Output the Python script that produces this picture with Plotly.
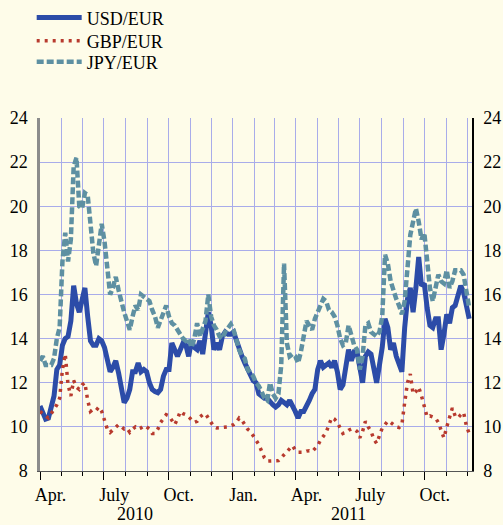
import pandas as pd
import plotly.graph_objects as go

# sampling dates (every 4 days from 1 Apr 2010)
dates = pd.date_range("2010-04-01", periods=154, freq="4D")

usd_eur = [
    10.95, 10.7, 10.35, 10.4, 10.9, 11.4, 12.6, 12.8, 13.7, 14.0,
    14.1, 14.8, 16.4, 15.6, 15.2, 15.7, 16.3, 15.0, 13.9, 13.7,
    13.7, 14.0, 13.9, 13.6, 12.9, 12.5, 12.7, 13.0, 12.45, 11.6,
    11.1, 11.3, 11.7, 12.5, 12.5, 12.9, 12.5, 12.6, 12.5, 12.0,
    11.7, 11.6, 11.55, 11.7, 12.3, 12.6, 12.6, 13.8, 13.5, 13.2,
    13.5, 13.8, 13.7, 13.2, 13.9, 13.6, 13.5, 13.9, 13.3, 14.2,
    15.2, 14.6, 13.5, 13.8, 13.5, 14.1, 14.3, 14.2, 14.2, 14.3,
    13.9, 13.6, 13.2, 12.9, 12.6, 12.3, 12.1, 12.0, 11.5, 11.4,
    11.3, 11.3, 11.1, 11.0, 10.9, 11.0, 11.2, 11.1, 11.0, 11.2,
    11.0, 10.7, 10.4, 10.7, 10.7, 10.9, 11.2, 11.5, 11.7, 12.6,
    13.0, 12.7, 12.8, 12.9, 12.7, 13.0, 12.5, 11.7, 11.9, 12.9,
    13.5, 13.0, 13.4, 13.4, 12.6, 12.0, 13.2, 13.4, 13.3, 12.5,
    12.0, 12.8, 13.6, 14.9, 14.5, 13.5, 13.8, 13.2, 12.8, 12.5,
    14.5, 15.8, 16.3, 15.2, 16.3, 17.7, 16.4, 16.5, 15.4, 14.6,
    14.5, 14.9, 14.9, 13.5, 14.2, 15.1, 14.7, 15.4, 15.5, 15.9,
    16.4, 16.1, 15.6, 14.9,
]

gbp_eur = [
    10.7, 10.6, 10.45, 10.4, 10.6, 10.8, 11.0, 11.3, 12.6, 13.3,
    11.9, 11.4, 12.1, 11.8, 11.7, 11.9, 12.0, 11.2, 10.7, 10.8,
    10.75, 10.9, 10.7, 10.3, 9.9, 9.75, 9.85, 10.0, 10.1, 10.0,
    9.9, 9.95, 9.75, 9.9, 10.0, 9.9, 9.95, 10.05, 10.0, 9.9,
    9.7, 9.7, 9.9, 10.2, 10.4, 10.55, 10.5, 10.3, 10.1, 10.35,
    10.7, 10.6, 10.55, 10.45, 10.3, 10.2, 10.25, 10.45, 10.55, 10.6,
    10.4, 10.2, 10.0, 9.95, 9.97, 9.97, 9.97, 10.0, 10.05, 10.1,
    10.2, 10.4, 10.3, 10.1, 9.9, 9.8, 9.6, 9.4, 9.2, 8.9,
    8.6, 8.45, 8.45, 8.45, 8.47, 8.47, 8.6, 8.75, 8.9, 9.05,
    9.15, 8.95, 8.85, 8.85, 8.85, 8.9, 8.92, 8.88, 9.0, 9.15,
    9.4, 9.6, 9.75, 10.1, 10.42, 10.35, 10.2, 9.95, 9.7, 9.75,
    9.85, 9.9, 9.9, 9.8, 9.5, 9.8, 10.25, 10.0, 9.8, 9.45,
    9.25, 9.6, 9.95, 10.1, 10.27, 10.2, 10.1, 10.0, 9.97, 10.1,
    11.1, 12.0, 12.4, 11.5, 11.6, 11.8, 11.4, 10.9, 10.45, 10.5,
    10.45, 10.4, 10.2, 9.9, 9.5, 10.0, 10.4, 10.85, 10.5, 10.4,
    10.55, 10.65, 10.05, 9.7,
]

jpy_eur = [
    13.0, 13.2, 12.8, 12.8, 12.8, 13.1, 14.0, 14.5, 17.5, 18.8,
    17.5, 18.5, 21.8, 22.2, 20.0, 19.9, 20.6, 20.5, 18.9, 17.9,
    17.3, 18.2, 19.2, 18.4, 17.0, 16.0, 16.3, 16.8, 16.2, 15.6,
    15.2, 14.8, 14.4, 15.0, 15.5, 15.3, 16.0, 15.9, 15.8, 15.7,
    15.3, 15.0, 14.5, 14.8, 15.2, 15.5, 15.0, 14.7, 14.6, 14.35,
    14.2, 14.0, 13.9, 14.0, 13.6, 14.0, 14.7, 14.1, 14.4, 14.8,
    16.0, 15.0, 14.6, 14.4, 14.1, 14.0, 14.3, 14.5, 14.65, 14.4,
    13.9, 13.5, 13.2, 13.1, 12.6, 12.45, 12.3, 12.0, 11.85, 11.6,
    11.3, 11.2, 12.0, 11.5, 11.3, 11.5, 12.8, 17.4, 13.8, 13.2,
    13.3, 13.2, 12.9, 13.4, 14.2, 14.8, 14.6, 14.4, 14.9, 15.2,
    15.6, 15.8, 15.7, 15.3, 15.2, 15.0, 14.6, 14.0, 13.7, 13.8,
    14.6, 14.1, 13.7, 13.5, 12.6, 13.2, 14.6, 14.7, 14.3, 14.2,
    14.1, 14.3, 15.0, 17.8, 17.4, 16.6, 16.1, 15.8, 15.5, 15.1,
    15.7, 17.5, 18.7, 19.3, 19.9, 19.3, 18.5, 18.8, 17.3, 16.3,
    15.7, 16.2, 16.9, 16.6, 16.5, 17.1, 16.3, 16.6, 17.1, 17.1,
    17.1, 16.9, 16.1, 15.4,
]

quarter_starts = ["2010-04-01", "2010-07-01", "2010-10-01", "2011-01-01",
                  "2011-04-01", "2011-07-01", "2011-10-01"]
label_dates = ["2010-04-16", "2010-07-16", "2010-10-16", "2011-01-16",
               "2011-04-16", "2011-07-16", "2011-10-16"]
label_text = ["Apr.", "July", "Oct.", "Jan.", "Apr.", "July", "Oct."]
years = ["2010", "2011"]
year_dates = ["2010-08-15", "2011-06-15"]

x_range = ["2010-04-01", "2011-12-08"]
bg = "#fefce9"
grid = "#a9acea"
font = "'Liberation Serif', 'Times New Roman', Times, serif"

fig = go.Figure()

fig.add_trace(go.Scatter(
    x=dates, y=usd_eur, name="USD/EUR", mode="lines", legend="legend",
    line=dict(color="#2c4ca8", width=5),
))
fig.add_trace(go.Scatter(
    x=dates, y=gbp_eur, name="GBP/EUR", mode="lines", legend="legend2",
    line=dict(color="#b83a2e", width=3.5, dash="3px,5px"),
))
# JPY on the overlay axes (drawn on top, also gives the right-hand labels)
fig.add_trace(go.Scatter(
    x=dates, y=jpy_eur, name="JPY/EUR", mode="lines", legend="legend3",
    line=dict(color="#5e90a2", width=4.5, dash="7px,3px"),
    xaxis="x2", yaxis="y2",
))

for yr, d in zip(years, year_dates):
    fig.add_annotation(x=d, y=-0.122, xref="x", yref="paper", text=yr,
                       showarrow=False, yanchor="middle",
                       font=dict(family=font, size=18, color="black"))

# legends placed in container coordinates so they do not push the margins
leg = dict(xref="container", yref="container", x=0.063, xanchor="left",
           yanchor="middle", itemwidth=45, bgcolor="rgba(0,0,0,0)",
           font=dict(family=font, size=18))

fig.update_layout(
    width=503, height=525,
    margin=dict(l=40, r=31, t=118, b=54, autoexpand=False),
    paper_bgcolor=bg, plot_bgcolor=bg,
    font=dict(family=font, size=18, color="black"),
    showlegend=True,
    legend=dict(leg, y=0.966),
    legend2=dict(leg, y=0.922),
    legend3=dict(leg, y=0.882),
    xaxis=dict(
        range=x_range, tickmode="array", tickvals=quarter_starts,
        showticklabels=False, ticks="outside", ticklen=8, tickcolor="black",
        showgrid=True, gridcolor=grid, gridwidth=1,
        showline=True, linecolor="#555555", linewidth=1,
        minor=dict(tickmode="linear", tick0="2010-04-01", dtick="M1",
                   ticks="outside", ticklen=4, tickcolor="black",
                   showgrid=True, gridcolor=grid, gridwidth=1),
        zeroline=False,
    ),
    xaxis2=dict(
        overlaying="x", matches="x", anchor="y", side="bottom",
        range=x_range, tickmode="array", tickvals=label_dates,
        ticktext=label_text, ticks="", showgrid=False, showline=False,
        ticklabelstandoff=11, tickfont=dict(family=font, size=18),
    ),
    yaxis=dict(
        range=[8, 24], dtick=2, ticks="", showgrid=True, gridcolor=grid,
        showline=True, linecolor="#8c8c8c", linewidth=2.5, zeroline=False,
        ticklabelstandoff=6, tickfont=dict(family=font, size=18),
    ),
    yaxis2=dict(
        overlaying="y", matches="y", side="right", anchor="x",
        range=[8, 24], dtick=2, ticks="", showgrid=False,
        showline=True, linecolor="black", linewidth=1.5, zeroline=False,
        ticklabelstandoff=6, tickfont=dict(family=font, size=18),
    ),
)

# drop the default body margin so the figure sits at the page corner
fig.write_html("out.html", config={"displayModeBar": False},
               post_script="document.body.style.margin='0';")
